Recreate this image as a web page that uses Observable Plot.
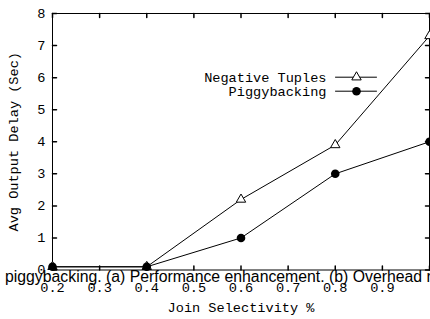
<!DOCTYPE html>
<html><head><meta charset="utf-8">
<script src="https://cdn.jsdelivr.net/npm/d3@7"></script>
<script src="https://cdn.jsdelivr.net/npm/@observablehq/plot@0.6"></script>
<style>
html,body{margin:0;padding:0;background:#fff;overflow:hidden;width:430px;height:319px}
#wrap{position:relative;width:430px;height:319px;overflow:hidden}
#caption{position:absolute;left:5px;top:268.5px;font-family:"Liberation Sans",Arial,sans-serif;font-size:15.8px;line-height:1;white-space:nowrap;color:#000;pointer-events:none}
</style></head><body>
<div id="wrap"><div id="chart"></div><div id="caption"></div></div>
<script>
const selectivity = [0.2, 0.4, 0.6, 0.8, 1.0];
const negativeTuples = [0.1, 0.1, 2.2, 3.9, 7.3];
const piggybacking = [0.1, 0.1, 1.0, 3.0, 4.0];
const seriesNames = ["Negative Tuples", "Piggybacking"];
const xTickValues = [0.2, 0.3, 0.4, 0.5, 0.6, 0.7, 0.8, 0.9, 1.0];
const xTickLabels = ["0.2", "0.3", "0.4", "0.5", "0.6", "0.7", "0.8", "0.9"];
const yTickValues = [0, 1, 2, 3, 4, 5, 6, 7, 8];
const yTickLabels = ["0", "1", "2", "3", "4", "5", "6", "7", "8"];
const xLabel = "Join Selectivity %";
const yLabel = "Avg Output Delay (Sec)";
const captionText = "piggybacking. (a) Performance enhancement. (b) Overhead re";

const rows = [];
selectivity.forEach((s, i) => {
  rows.push({series: seriesNames[0], x: s, y: negativeTuples[i]});
  rows.push({series: seriesNames[1], x: s, y: piggybacking[i]});
});
const negRows = rows.filter(d => d.series === seriesNames[0]);
const pigRows = rows.filter(d => d.series === seriesNames[1]);

const tickShape = {draw(context, l) { context.moveTo(0, 0); context.lineTo(0, -l); }};
const TL = 4;
const mono = "'Liberation Mono','Courier New',monospace";

const legendMarks = [];
seriesNames.forEach((name, i) => {
  const dy = 63.7 + 14 * i;
  legendMarks.push(Plot.text([name], {frameAnchor: "top-right", dx: -103, dy, text: d => d, textAnchor: "end", lineAnchor: "middle", fill: "black"}));
  legendMarks.push(Plot.vector([name], {frameAnchor: "top-right", dx: -94, dy, rotate: 90, length: 41, anchor: "start", shape: tickShape, stroke: "black", strokeWidth: 1}));
  legendMarks.push(i === 0
    ? Plot.dot([name], {frameAnchor: "top-right", dx: -73, dy, symbol: "triangle", r: 3.5, fill: "white", stroke: "black", strokeWidth: 1})
    : Plot.dot([name], {frameAnchor: "top-right", dx: -73, dy, symbol: "circle", r: 4.3, fill: "black", stroke: "none"}));
});

const chart = Plot.plot({
  width: 430,
  height: 319,
  marginLeft: 52,
  marginRight: 1,
  marginTop: 13,
  marginBottom: 49.5,
  style: {fontFamily: mono, fontSize: "13.6px", color: "black", background: "white"},
  x: {domain: [0.2, 1.0], axis: null},
  y: {domain: [0, 8], axis: null},
  marks: [
    Plot.frame({stroke: "black", strokeWidth: 1}),
    Plot.vector(xTickValues, {x: d => d, frameAnchor: "bottom", rotate: 0, length: TL, anchor: "start", shape: tickShape, stroke: "black"}),
    Plot.vector(xTickValues, {x: d => d, frameAnchor: "top", rotate: 180, length: TL, anchor: "start", shape: tickShape, stroke: "black"}),
    Plot.vector(yTickValues, {y: d => d, frameAnchor: "left", rotate: 90, length: TL, anchor: "start", shape: tickShape, stroke: "black"}),
    Plot.vector(yTickValues, {y: d => d, frameAnchor: "right", rotate: 270, length: TL, anchor: "start", shape: tickShape, stroke: "black"}),
    Plot.text(xTickLabels, {x: d => +d, frameAnchor: "bottom", dy: 17.5, text: d => d, lineAnchor: "middle", textAnchor: "middle", fill: "black"}),
    Plot.text(yTickLabels, {y: d => +d, frameAnchor: "left", dx: -7, textAnchor: "end", lineAnchor: "middle", text: d => d, fill: "black"}),
    Plot.text([xLabel], {frameAnchor: "bottom", dy: 37.5, text: d => d, lineAnchor: "middle", textAnchor: "middle", fill: "black"}),
    Plot.text([yLabel], {frameAnchor: "left", dx: -38.5, rotate: -90, text: d => d, textAnchor: "middle", lineAnchor: "middle", fill: "black"}),
    Plot.line(rows, {x: "x", y: "y", z: "series", stroke: "black", strokeWidth: 1}),
    Plot.dot(negRows, {x: "x", y: "y", symbol: "triangle", r: 3.5, fill: "white", stroke: "black", strokeWidth: 1}),
    Plot.dot(pigRows, {x: "x", y: "y", symbol: "circle", r: 4.3, fill: "black", stroke: "none"}),
    ...legendMarks
  ]
});
document.getElementById("chart").appendChild(chart);
document.getElementById("caption").textContent = captionText;
</script>
</body></html>
